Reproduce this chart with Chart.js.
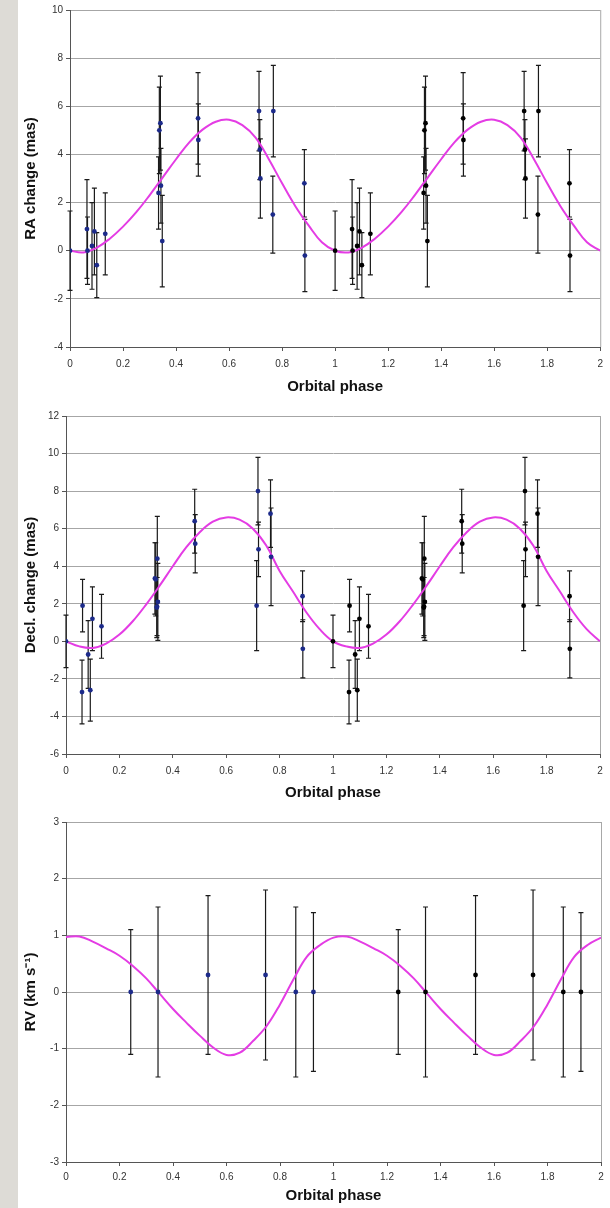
<!DOCTYPE html>
<html>
<head>
<meta charset="utf-8">
<script src="https://cdn.jsdelivr.net/npm/chart.js@4.4.1/dist/chart.umd.min.js"></script>
<style>
  html, body { margin: 0; padding: 0; background: #fff; }
  body { width: 610px; height: 1208px; position: relative; overflow: hidden; }
  .strip { position: absolute; left: 0; top: 0; width: 18px; height: 1208px; background: #dddbd6; }
  canvas { position: absolute; left: 0; }
</style>
</head>
<body>
<div class="strip"></div>
<canvas id="raChart" width="610" height="400" style="top:0px"></canvas>
<canvas id="declChart" width="610" height="404" style="top:400px"></canvas>
<canvas id="rvChart" width="610" height="404" style="top:804px"></canvas>
<script>
// Phase-folded astrometry / RV data (first cycle, 0-1).
// The second cycle (1-2) is the same measurements shown again at phase + 1.

// RA change (mas)
const raPhase = [0.000, 0.064, 0.066, 0.083, 0.092, 0.101, 0.133, 0.334, 0.337, 0.341, 0.343, 0.348,
                 0.483, 0.484, 0.713, 0.716, 0.718, 0.767, 0.765, 0.884, 0.886];
const raValue = [0.0, 0.9, 0.0, 0.2, 0.8, -0.6, 0.7, 2.4, 5.0, 5.3, 2.7, 0.4,
                 5.5, 4.6, 5.8, 4.2, 3.0, 5.8, 1.5, 2.8, -0.2];
const raError = [1.65, 2.05, 1.4, 1.8, 1.8, 1.35, 1.7, 1.5, 1.8, 1.95, 1.55, 1.9,
                 1.9, 1.5, 1.65, 1.25, 1.65, 1.9, 1.6, 1.4, 1.5];

// Decl. change (mas)
const declPhase = [0.000, 0.062, 0.060, 0.083, 0.091, 0.099, 0.133, 0.333, 0.336, 0.342, 0.340, 0.344, 0.341,
                   0.482, 0.484, 0.719, 0.721, 0.714, 0.766, 0.768, 0.886, 0.887];
const declValue = [0.0, 1.9, -2.7, -0.7, -2.6, 1.2, 0.8, 3.35, 3.3, 4.4, 1.8, 2.1, 1.85,
                   6.4, 5.2, 8.0, 4.9, 1.9, 6.8, 4.5, 2.4, -0.4];
const declError = [1.4, 1.4, 1.7, 1.8, 1.65, 1.7, 1.7, 1.9, 1.95, 2.25, 1.6, 2.05, 1.55,
                   1.7, 1.55, 1.8, 1.45, 2.4, 1.8, 2.6, 1.35, 1.55];

// RV (km/s)
const rvPhase = [0.242, 0.344, 0.531, 0.746, 0.859, 0.925];
const rvValue = [0.0, 0.0, 0.3, 0.3, 0.0, 0.0];
const rvError = [1.1, 1.5, 1.4, 1.5, 1.5, 1.4];

// Orbit fit curves, sampled from the magenta line every 0.05 in phase
const fitPhase = [0, 0.05, 0.1, 0.15, 0.2, 0.25, 0.3, 0.35, 0.4, 0.45, 0.5,
                  0.55, 0.6, 0.65, 0.7, 0.75, 0.8, 0.85, 0.9, 0.95, 1.0];
const raFit   = [0, -0.07, 0.12, 0.5, 1.0, 1.6, 2.3, 3.05, 3.8, 4.5, 5.03,
                 5.36, 5.44, 5.22, 4.7, 3.8, 2.8, 1.85, 1.05, 0.35, 0];
const declFit = [0, -0.27, -0.35, -0.12, 0.36, 1.07, 1.96, 2.95, 4.0, 5.0, 5.8,
                 6.37, 6.6, 6.48, 6.0, 5.1, 3.75, 2.65, 1.55, 0.65, 0];
const rvFit   = [0.97, 0.98, 0.89, 0.77, 0.64, 0.46, 0.24, -0.03, -0.3, -0.54, -0.77,
                 -0.98, -1.11, -1.07, -0.86, -0.6, -0.22, 0.22, 0.62, 0.83, 0.96];

function toPoints(xs, ys) {
  return xs.map((x, i) => ({ x: x, y: ys[i] }));
}

// both cycles of the fit, skipping the repeated point at phase 1
function fitPoints(values) {
  const first = toPoints(fitPhase, values);
  const second = toPoints(fitPhase.slice(1).map(p => p + 1), values.slice(1));
  return first.concat(second);
}

// vertical error bars with caps + grey right edge of the plot box
const errorBars = {
  id: 'errorBars',
  beforeDatasetsDraw(chart) {
    const { ctx, chartArea, scales: { x, y } } = chart;
    ctx.save();
    ctx.strokeStyle = '#a8a8a8';
    ctx.lineWidth = 1;
    ctx.beginPath();
    ctx.moveTo(chartArea.right + 0.5, chartArea.top);
    ctx.lineTo(chartArea.right + 0.5, chartArea.bottom);
    ctx.stroke();

    ctx.strokeStyle = '#1a1a1a';
    ctx.lineWidth = 1.2;
    chart.data.datasets.forEach(ds => {
      if (!ds.errors) return;
      ds.data.forEach((pt, j) => {
        const e = ds.errors[j];
        const px = x.getPixelForValue(pt.x);
        const top = y.getPixelForValue(pt.y + e);
        const bot = y.getPixelForValue(pt.y - e);
        ctx.beginPath();
        ctx.moveTo(px, top);
        ctx.lineTo(px, bot);
        ctx.moveTo(px - 2.5, top);
        ctx.lineTo(px + 2.5, top);
        ctx.moveTo(px - 2.5, bot);
        ctx.lineTo(px + 2.5, bot);
        ctx.stroke();
      });
    });
    ctx.restore();
  }
};

function makePanel(id, p) {
  const canvas = document.getElementById(id);
  const H = canvas.height;
  return new Chart(canvas, {
    type: 'scatter',
    data: {
      datasets: [
        {
          data: toPoints(p.phase, p.value),
          errors: p.error,
          backgroundColor: '#1c2a8a',
          borderWidth: 0,
          pointRadius: 2.4
        },
        {
          data: toPoints(p.phase.map(v => v + 1), p.value),
          errors: p.error,
          backgroundColor: '#000',
          borderWidth: 0,
          pointRadius: 2.4
        },
        {
          type: 'line',
          data: fitPoints(p.fit),
          showLine: true,
          borderColor: '#e43ce4',
          borderWidth: 2,
          pointRadius: 0,
          tension: 0.4,
          fill: false
        }
      ]
    },
    options: {
      responsive: false,
      animation: false,
      events: [],
      layout: { padding: { left: 0, right: 610 - p.right, top: p.top, bottom: 0 } },
      plugins: { legend: { display: false }, tooltip: { enabled: false } },
      scales: {
        x: {
          type: 'linear',
          min: 0,
          max: 2,
          afterFit(s) { s.height = H - p.bottom; },
          grid: { drawOnChartArea: false, tickLength: 4, tickColor: '#555' },
          border: { color: '#555' },
          ticks: {
            stepSize: 0.2,
            padding: p.tickPad,
            color: '#333',
            font: { family: 'Liberation Sans, Arial, sans-serif', size: 10 },
            callback: v => String(+v.toFixed(1))
          },
          title: {
            display: true,
            text: 'Orbital phase',
            color: '#111',
            padding: { top: 0, bottom: p.titlePad },
            font: { family: 'Liberation Sans, Arial, sans-serif', size: 15, weight: 'bold' }
          }
        },
        y: {
          min: p.min,
          max: p.max,
          afterFit(s) { s.width = p.left; },
          grid: { color: '#a6a6a6', tickLength: 4, tickColor: '#555' },
          border: { color: '#555' },
          ticks: {
            stepSize: p.step,
            padding: 3,
            color: '#333',
            font: { family: 'Liberation Sans, Arial, sans-serif', size: 10 }
          },
          title: {
            display: true,
            text: p.label,
            color: '#111',
            padding: { top: 22, bottom: 0 },
            font: { family: 'Liberation Sans, Arial, sans-serif', size: 15, weight: 'bold' }
          }
        }
      }
    },
    plugins: [errorBars]
  });
}

makePanel('raChart', {
  phase: raPhase, value: raValue, error: raError, fit: raFit,
  label: 'RA change (mas)', min: -4, max: 10, step: 2,
  left: 70, right: 604, top: 10, bottom: 347, titlePad: 4, tickPad: 7
});

makePanel('declChart', {
  phase: declPhase, value: declValue, error: declError, fit: declFit,
  label: 'Decl. change (mas)', min: -6, max: 12, step: 2,
  left: 66, right: 600, top: 16, bottom: 354, titlePad: 2, tickPad: 7
});

makePanel('rvChart', {
  phase: rvPhase, value: rvValue, error: rvError, fit: rvFit,
  label: 'RV (km s\u207B\u00B9)', min: -3, max: 3, step: 1,
  left: 66, right: 601, top: 18, bottom: 358, titlePad: 3, tickPad: 5
});
</script>
</body>
</html>
